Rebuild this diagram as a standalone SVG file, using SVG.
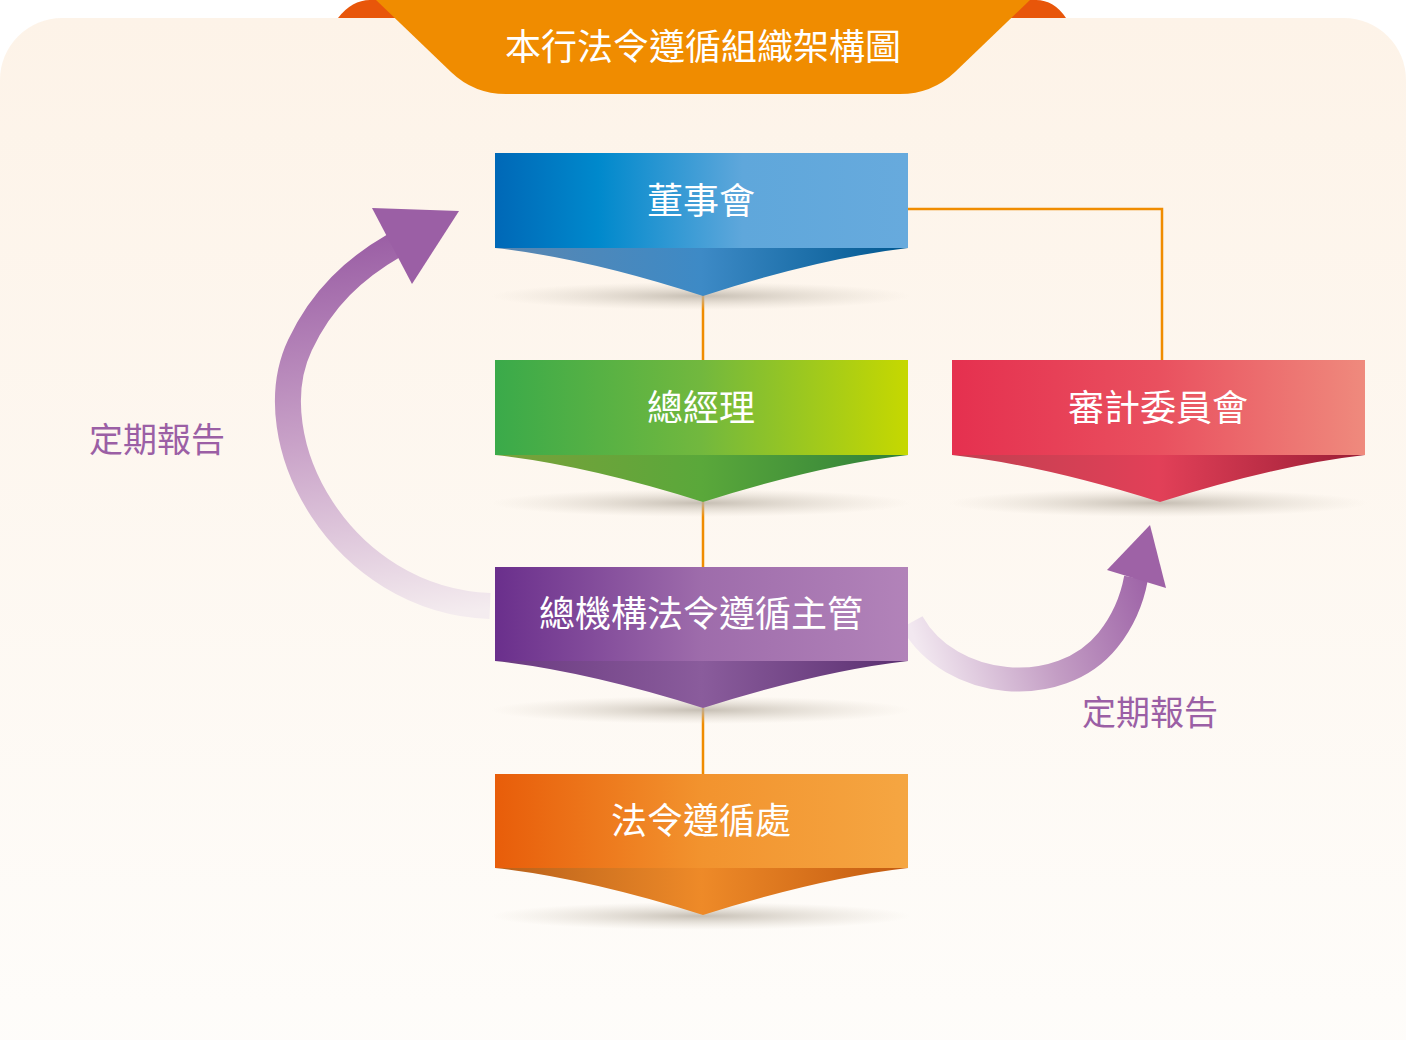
<svg xmlns="http://www.w3.org/2000/svg" width="1406" height="1040" viewBox="0 0 1406 1040">
<defs>
<linearGradient id="bg" x1="0" y1="0" x2="0" y2="1"><stop offset="0" stop-color="#fdf3e8"/><stop offset="1" stop-color="#fefdfb"/></linearGradient>
<linearGradient id="gBlue" x1="0" x2="1"><stop offset="0" stop-color="#0068b7"/><stop offset="0.25" stop-color="#0089cc"/><stop offset="0.6" stop-color="#5fa7db"/><stop offset="1" stop-color="#67aadd"/></linearGradient>
<linearGradient id="cBlue" x1="0" x2="1"><stop offset="0" stop-color="#5a86b0"/><stop offset="0.5" stop-color="#3d8ac6"/><stop offset="1" stop-color="#00578f"/></linearGradient>
<linearGradient id="gGreen" x1="0" x2="1"><stop offset="0" stop-color="#3aaa4a"/><stop offset="0.5" stop-color="#72b83e"/><stop offset="1" stop-color="#c6d800"/></linearGradient>
<linearGradient id="cGreen" x1="0" x2="1"><stop offset="0" stop-color="#7aa03a"/><stop offset="0.5" stop-color="#5aa83a"/><stop offset="1" stop-color="#2f7f3a"/></linearGradient>
<linearGradient id="gRed" x1="0" x2="1"><stop offset="0" stop-color="#e5304f"/><stop offset="0.5" stop-color="#e9505f"/><stop offset="1" stop-color="#ef8a7d"/></linearGradient>
<linearGradient id="cRed" x1="0" x2="1"><stop offset="0" stop-color="#c04050"/><stop offset="0.5" stop-color="#e24058"/><stop offset="1" stop-color="#9a1d35"/></linearGradient>
<linearGradient id="gPurple" x1="0" x2="1"><stop offset="0" stop-color="#6a2f8c"/><stop offset="0.5" stop-color="#9e6cab"/><stop offset="1" stop-color="#b283b9"/></linearGradient>
<linearGradient id="cPurple" x1="0" x2="1"><stop offset="0" stop-color="#6a3a80"/><stop offset="0.5" stop-color="#8a5c9c"/><stop offset="1" stop-color="#5a2f70"/></linearGradient>
<linearGradient id="gOrange" x1="0" x2="1"><stop offset="0" stop-color="#e85d0a"/><stop offset="0.5" stop-color="#f2932e"/><stop offset="1" stop-color="#f5a642"/></linearGradient>
<linearGradient id="cOrange" x1="0" x2="1"><stop offset="0" stop-color="#b8601a"/><stop offset="0.5" stop-color="#ee8a28"/><stop offset="1" stop-color="#c25a10"/></linearGradient>
<radialGradient id="shadow"><stop offset="0" stop-color="#b8b0a4" stop-opacity="0.8"/><stop offset="1" stop-color="#d8d0c4" stop-opacity="0"/></radialGradient>
<linearGradient id="aL" gradientUnits="userSpaceOnUse" x1="480" y1="610" x2="420" y2="230"><stop offset="0" stop-color="#f4ecef"/><stop offset="0.5" stop-color="#c9a2c8"/><stop offset="1" stop-color="#9b5fa5"/></linearGradient>
<linearGradient id="aR" gradientUnits="userSpaceOnUse" x1="915" y1="640" x2="1150" y2="560"><stop offset="0" stop-color="#f2e8f0"/><stop offset="0.5" stop-color="#c39dc4"/><stop offset="1" stop-color="#9b5fa5"/></linearGradient>
<style>
.t{font-family:"Noto Sans CJK TC","Noto Sans CJK SC",sans-serif;fill:#fff;text-anchor:middle;font-size:36px}
.lab{font-family:"Noto Sans CJK TC","Noto Sans CJK SC",sans-serif;fill:#9b5fa5;text-anchor:middle;font-size:34px}
.con{fill:none;stroke:#f08c00;stroke-width:2.5}
</style>
</defs>
<rect width="1406" height="1040" fill="#fff"/>
<rect x="0" y="18" width="1406" height="1100" rx="62" fill="url(#bg)"/>
<g id="title">
<path d="M338,18 Q352,0 370,0 L1036,0 Q1054,0 1066,18 Z" fill="#e8560a"/>
<path d="M376,0 L1030,0 L955,72 Q932,94 900,94 L506,94 Q474,94 451,72 Z" fill="#f08c00"/>
<text class="t" x="703" y="60">本行法令遵循組織架構圖</text>
</g>
<g id="connectors">
<path class="con" d="M703,295 V360 M703,502 V567 M703,708 V774 M908,209 H1162 V360"/>
</g>
<g id="arrows">
<path d="M490,606 C340,600 255,440 300,345 C322,298 355,268 395,245" fill="none" stroke="url(#aL)" stroke-width="26"/>
<polygon points="372,208 459,211 412,284" fill="#9b5fa5"/>
<path d="M912,622 C950,690 1060,700 1108,640 C1124,620 1132,600 1136,578" fill="none" stroke="url(#aR)" stroke-width="24"/>
<polygon points="1107,570 1150,525 1166,588" fill="#9e62a6"/>
<text class="lab" x="157" y="452">定期報告</text>
<text class="lab" x="1150" y="725">定期報告</text>
</g>
<g id="n1">
<ellipse cx="701" cy="296" rx="210" ry="14" fill="url(#shadow)"/>
<path d="M495,248 L908,248 Q820,258 703,296 Q586,258 495,248 Z" fill="url(#cBlue)"/>
<rect x="495" y="153" width="413" height="95" fill="url(#gBlue)"/>
<text class="t" x="701" y="214">董事會</text>
</g>
<g id="n2">
<ellipse cx="701" cy="503" rx="210" ry="14" fill="url(#shadow)"/>
<path d="M495,455 L908,455 Q820,465 703,502 Q586,465 495,455 Z" fill="url(#cGreen)"/>
<rect x="495" y="360" width="413" height="95" fill="url(#gGreen)"/>
<text class="t" x="701" y="421">總經理</text>
</g>
<g id="n3">
<ellipse cx="1158" cy="503" rx="210" ry="14" fill="url(#shadow)"/>
<path d="M952,455 L1365,455 Q1277,465 1160,502 Q1043,465 952,455 Z" fill="url(#cRed)"/>
<rect x="952" y="360" width="413" height="95" fill="url(#gRed)"/>
<text class="t" x="1158" y="421">審計委員會</text>
</g>
<g id="n4">
<ellipse cx="701" cy="710" rx="210" ry="14" fill="url(#shadow)"/>
<path d="M495,661 L908,661 Q820,671 703,708 Q586,671 495,661 Z" fill="url(#cPurple)"/>
<rect x="495" y="567" width="413" height="94" fill="url(#gPurple)"/>
<text class="t" x="701" y="627">總機構法令遵循主管</text>
</g>
<g id="n5">
<ellipse cx="701" cy="916" rx="210" ry="14" fill="url(#shadow)"/>
<path d="M495,868 L908,868 Q820,878 703,915 Q586,878 495,868 Z" fill="url(#cOrange)"/>
<rect x="495" y="774" width="413" height="94" fill="url(#gOrange)"/>
<text class="t" x="701" y="834">法令遵循處</text>
</g>
</svg>
